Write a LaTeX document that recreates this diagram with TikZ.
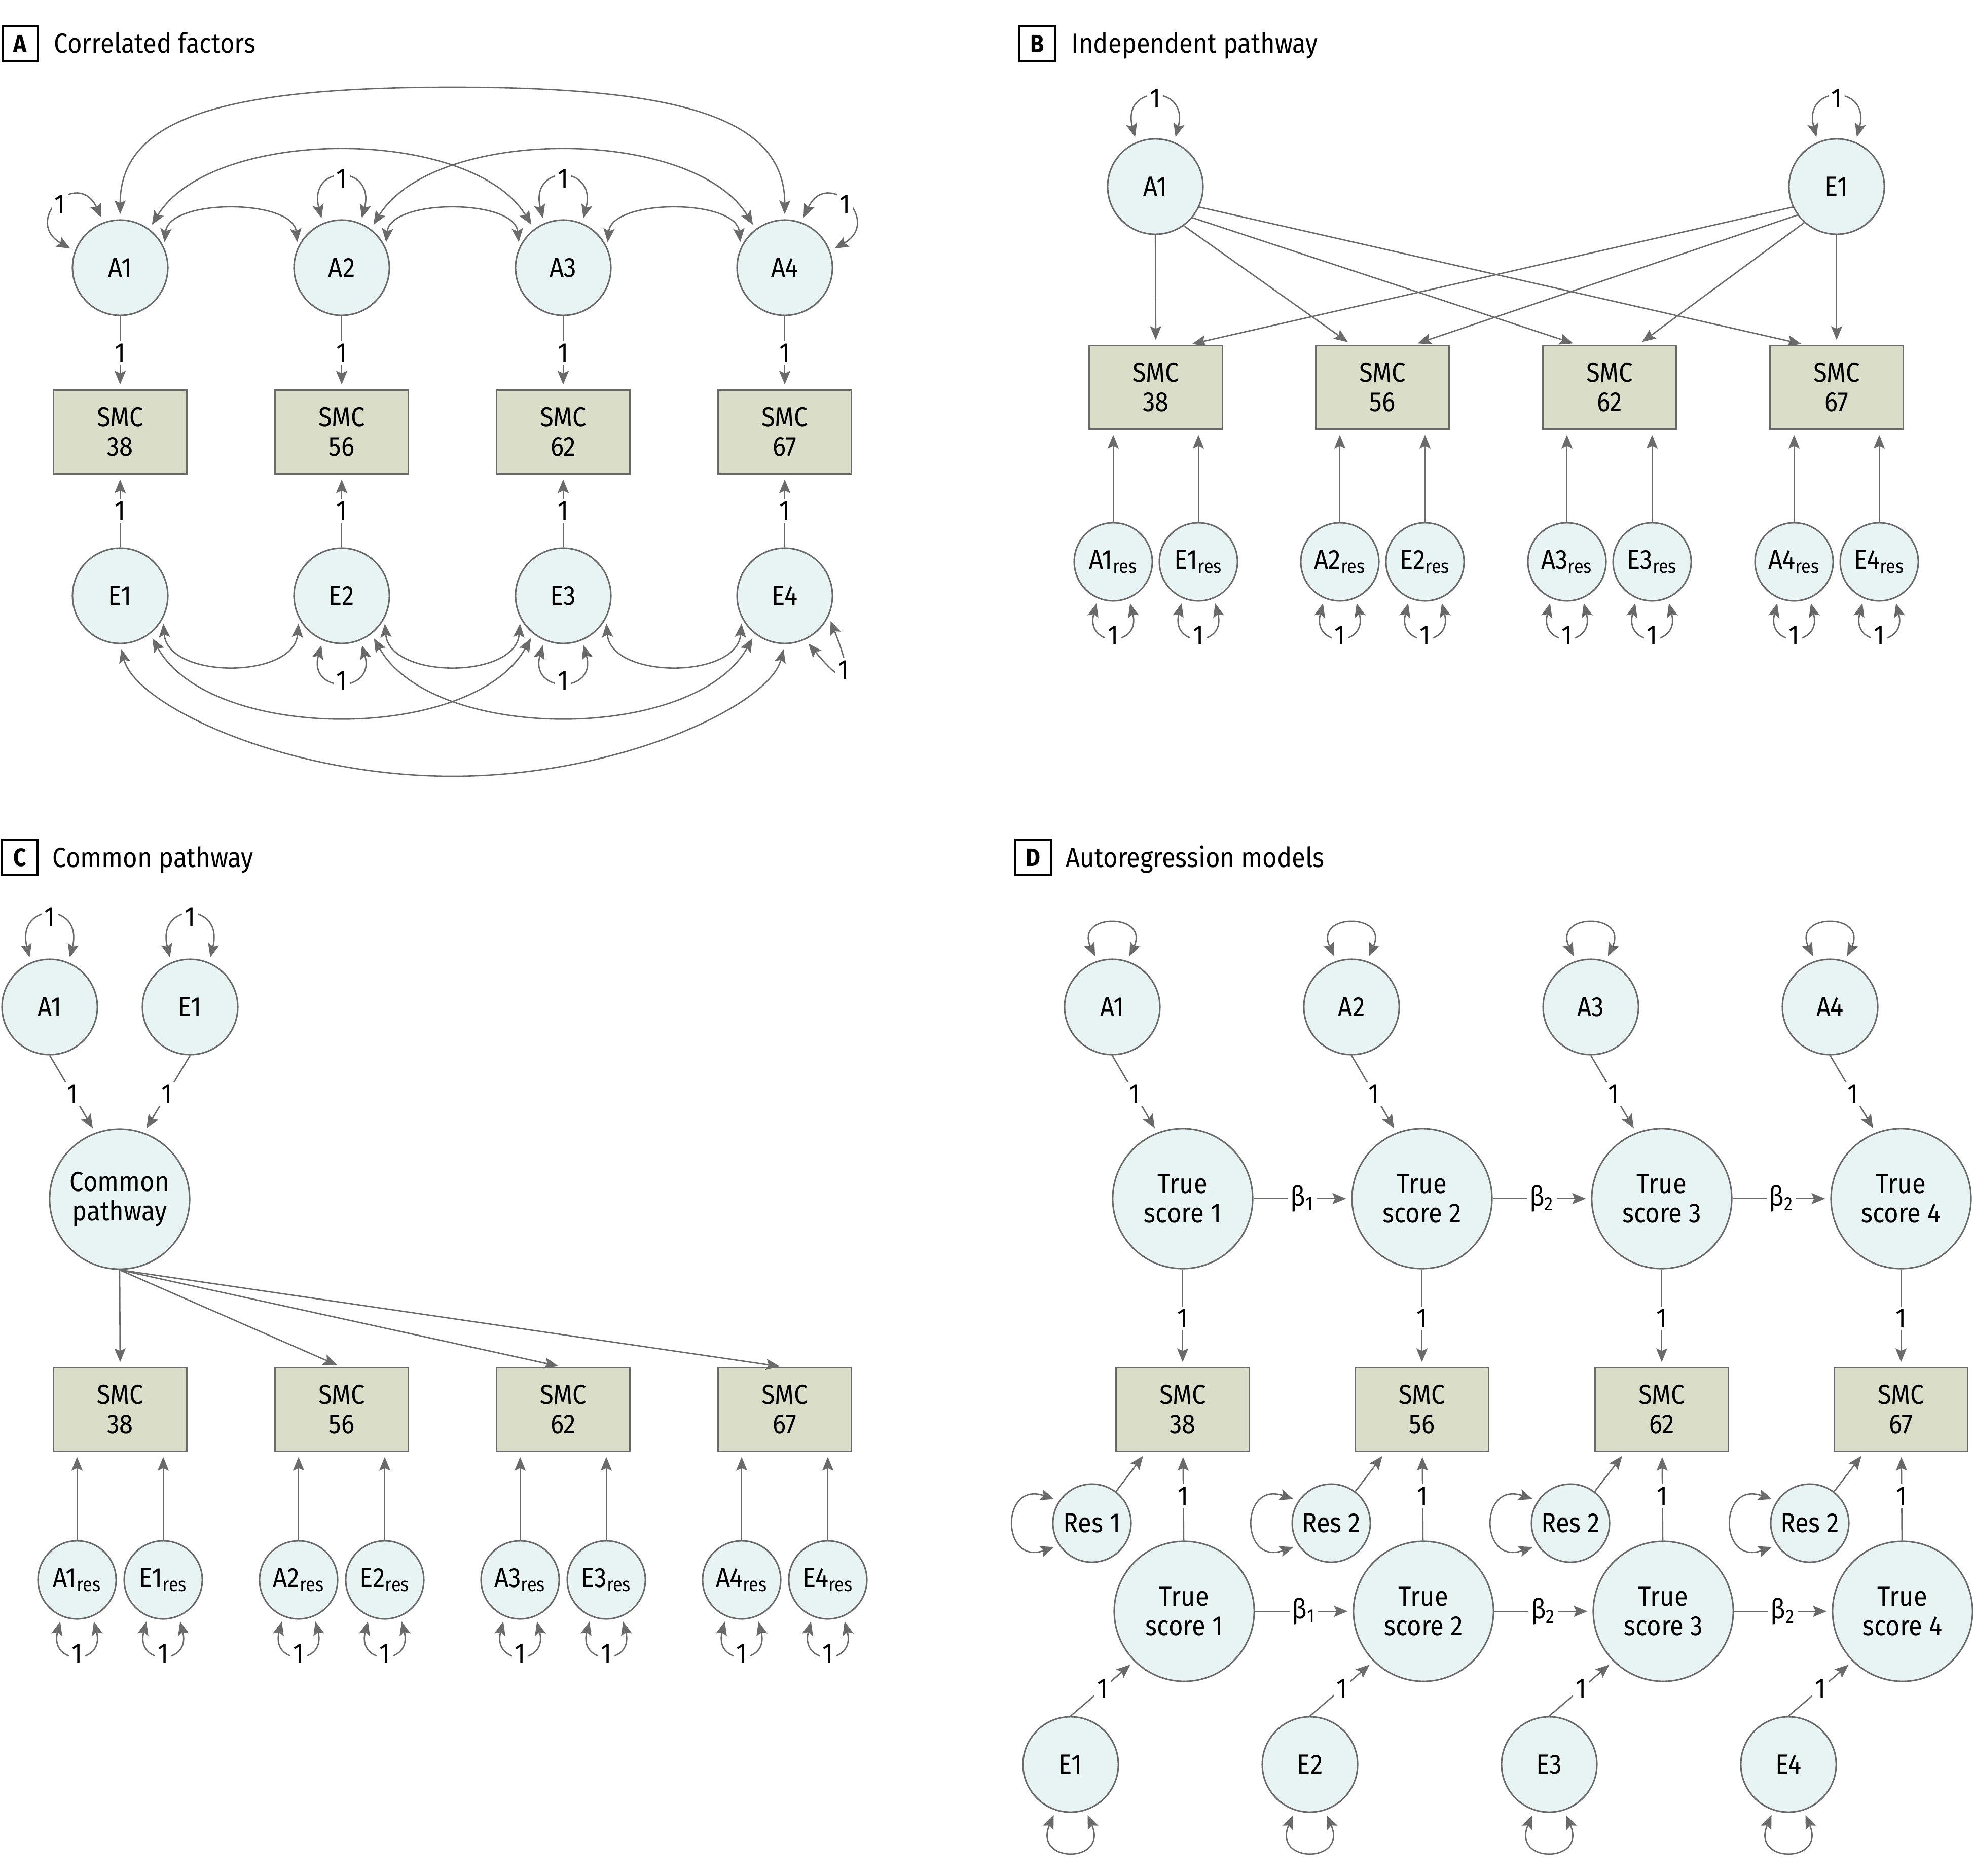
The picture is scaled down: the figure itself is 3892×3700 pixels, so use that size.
\documentclass[tikz,border=0pt]{standalone}
\usepackage{fontspec}
\setmainfont{Fira Sans}[FakeStretch=0.9]
\usetikzlibrary{arrows.meta}
\definecolor{lc}{HTML}{6A6A6A}
\definecolor{cfill}{HTML}{E8F3F4}
\definecolor{bfill}{HTML}{DADDC7}
\tikzset{
  lat/.style={circle, draw=lc, fill=cfill, line width=0.85pt, minimum size=1.88cm, inner sep=0pt, align=center},
  latbig/.style={lat, minimum size=2.76cm},
  latres/.style={lat, minimum size=1.54cm},
  obs/.style={rectangle, draw=lc, fill=bfill, line width=0.85pt, minimum width=2.63cm, minimum height=1.64cm, align=center},
  tip/.tip={Stealth[length=0.27cm,width=0.22cm,inset=0.05cm]},
  arr/.style={draw=lc, line width=0.75pt, -tip, shorten >=0.1cm},
  dbl/.style={draw=lc, line width=0.75pt, tip-tip, shorten >=0.1cm, shorten <=0.1cm},
  lbl/.style={fill=white, inner sep=1.5pt, text=black},
  hdr/.style={draw=black, line width=0.9pt, minimum size=0.7cm, inner sep=0pt, font=\fontsize{14}{16}\selectfont\bfseries},
  ttl/.style={anchor=base west, inner sep=0pt}
}
\begin{document}
\begin{tikzpicture}[x=0.01cm,y=0.01cm,font=\fontsize{15.5}{16.5}\selectfont]
\fill[white] (0,0) rectangle (3892,-3700);
\useasboundingbox (0,0) rectangle (3892,-3700);

% ---------------- headers ----------------
\node[hdr] (hA) at (40,-86) {A};
\node[ttl] (tA) at (106,-105) {Correlated factors};
\node[hdr] (hB) at (2046,-86) {B};
\node[ttl] (tB) at (2113,-105) {Independent pathway};
\node[hdr] (hC) at (39,-1691) {C};
\node[ttl] (tC) at (103,-1710) {Common pathway};
\node[hdr] (hD) at (2038,-1691) {D};
\node[ttl] (tD) at (2102,-1710) {Autoregression models};

% ---------------- panel A ----------------
\foreach \i/\x/\s in {1/237/38,2/674/56,3/1111/62,4/1548/67} {
  \node[lat] (aA\i) at (\x,-528) {A\i};
  \node[obs] (aS\i) at (\x,-852) {SMC\\\s};
  \node[lat] (aE\i) at (\x,-1175) {E\i};
  \draw[arr] (aA\i) -- node[lbl]{1} (aS\i);
  \draw[arr] (aE\i) -- node[lbl]{1} (aS\i);
}
% covariances among A
\draw[dbl] (aA1.25) .. controls +(10,96) and +(-10,96) .. (aA2.155);
\draw[dbl] (aA2.25) .. controls +(10,96) and +(-10,96) .. (aA3.155);
\draw[dbl] (aA3.25) .. controls +(10,96) and +(-10,96) .. (aA4.155);
\draw[dbl] (aA1.53) .. controls +(124,203) and +(-124,203) .. (aA3.127);
\draw[dbl] (aA2.53) .. controls +(124,203) and +(-124,203) .. (aA4.127);
\coordinate (aTop) at (892.5,-172);
\draw[dbl] (aA1.90) .. controls +(0,200) and +(-450,0) .. (aTop) .. controls +(450,0) and +(0,200) .. (aA4.90);
% covariances among E
\draw[dbl] (aE1.-28) .. controls +(10,-120) and +(-10,-120) .. (aE2.-152);
\draw[dbl] (aE2.-28) .. controls +(10,-120) and +(-10,-120) .. (aE3.-152);
\draw[dbl] (aE3.-28) .. controls +(10,-120) and +(-10,-120) .. (aE4.-152);
\draw[dbl] (aE1.-52) .. controls +(120,-215) and +(-120,-215) .. (aE3.-128);
\draw[dbl] (aE2.-52) .. controls +(120,-215) and +(-120,-215) .. (aE4.-128);
\coordinate (aBot) at (892.5,-1531);
\draw[dbl] (aE1.-90) .. controls +(30,-120) and +(-330,0) .. (aBot) .. controls +(330,0) and +(-30,-120) .. (aE4.-90);
% variances
\draw[dbl] (aA1.160) .. controls +(-104,60) and +(-51,109) .. (aA1.110) node[lbl,pos=0.5]{1};
\draw[dbl] (aA4.20) .. controls +(104,60) and +(51,109) .. (aA4.70) node[lbl,pos=0.5]{1};
\draw[dbl] (aA2.113) .. controls +(-30,117) and +(30,117) .. (aA2.67) node[lbl,pos=0.5]{1};
\draw[dbl] (aA3.113) .. controls +(-30,117) and +(30,117) .. (aA3.67) node[lbl,pos=0.5]{1};
\draw[dbl] (aE2.-113) .. controls +(-30,-106) and +(30,-106) .. (aE2.-67) node[lbl,pos=0.5]{1};
\draw[dbl] (aE3.-113) .. controls +(-30,-106) and +(30,-106) .. (aE3.-67) node[lbl,pos=0.5]{1};
\draw[dbl] (aE4.-25) .. controls +(40,-100) and +(100,-120) .. (aE4.-65) node[lbl,pos=0.5]{1};

% ---------------- panel B ----------------
\node[lat] (bA) at (2279,-368) {A1};
\node[lat] (bE) at (3623,-368) {E1};
\draw[dbl] (bA.113) .. controls +(-30,114) and +(30,114) .. (bA.67) node[lbl,pos=0.5]{1};
\draw[dbl] (bE.113) .. controls +(-30,114) and +(30,114) .. (bE.67) node[lbl,pos=0.5]{1};
\foreach \i/\x/\s in {1/2280/38,2/2727/56,3/3175/62,4/3623/67} {
  \node[obs] (bS\i) at (\x,-764) {SMC\\\s};
  \node[latres] (bRa\i) at (\x-84,-1108) {A\i\textsubscript{res}};
  \node[latres] (bRe\i) at (\x+84,-1108) {E\i\textsubscript{res}};
  \draw[arr] (bRa\i) -- (bRa\i |- bS\i.south);
  \draw[arr] (bRe\i) -- (bRe\i |- bS\i.south);
  \draw[dbl] (bRa\i.-113) .. controls +(-25,-97) and +(25,-97) .. (bRa\i.-67) node[lbl,pos=0.5]{1};
  \draw[dbl] (bRe\i.-113) .. controls +(-25,-97) and +(25,-97) .. (bRe\i.-67) node[lbl,pos=0.5]{1};
}
\draw[arr] (bA) -- (bS1);
\draw[arr] (bA.-54) -- ([xshift=-0.6cm]bS2.north);
\draw[arr] (bA.-40) -- ([xshift=-0.62cm]bS3.north);
\draw[arr] (bA.-25) -- ([xshift=-0.6cm]bS4.north);
\draw[arr] (bE.205) -- ([xshift=0.62cm]bS1.north);
\draw[arr] (bE.216) -- ([xshift=0.6cm]bS2.north);
\draw[arr] (bE.228) -- ([xshift=0.56cm]bS3.north);
\draw[arr] (bE) -- (bS4);

% ---------------- panel C ----------------
\node[lat] (cA) at (98,-1986) {A1};
\node[lat] (cE) at (375,-1986) {E1};
\node[latbig] (cP) at (236,-2365) {Common\\pathway};
\draw[dbl] (cA.113) .. controls +(-30,120) and +(30,120) .. (cA.67) node[lbl,pos=0.5]{1};
\draw[dbl] (cE.113) .. controls +(-30,120) and +(30,120) .. (cE.67) node[lbl,pos=0.5]{1};
\draw[arr] (cA.south) -- node[lbl]{1} (cP.110);
\draw[arr] (cE.south) -- node[lbl]{1} (cP.70);
\foreach \i/\x/\s in {1/237/38,2/674/56,3/1111/62,4/1548/67} {
  \node[obs] (cS\i) at (\x,-2780) {SMC\\\s};
  \node[latres] (cRa\i) at (\x-85,-3116) {A\i\textsubscript{res}};
  \node[latres] (cRe\i) at (\x+85,-3116) {E\i\textsubscript{res}};
  \draw[arr] (cP.south) -- (cS\i.north);
  \draw[arr] (cRa\i) -- (cRa\i |- cS\i.south);
  \draw[arr] (cRe\i) -- (cRe\i |- cS\i.south);
  \draw[dbl] (cRa\i.-113) .. controls +(-25,-97) and +(25,-97) .. (cRa\i.-67) node[lbl,pos=0.5]{1};
  \draw[dbl] (cRe\i.-113) .. controls +(-25,-97) and +(25,-97) .. (cRe\i.-67) node[lbl,pos=0.5]{1};
}

% ---------------- panel D ----------------
\foreach \i/\xa/\xt/\xr/\xe/\s/\rl in {1/2194/2333/2154/2112/38/1,2/2666/2805/2626/2584/56/2,3/3138/3278/3098/3056/62/2,4/3610/3750/3570/3528/67/2} {
  \node[lat] (dA\i) at (\xa,-1986) {A\i};
  \node[latbig] (dT\i) at (\xt,-2364) {True\\score \i};
  \node[obs] (dS\i) at (\xt,-2780) {SMC\\\s};
  \node[latres] (dR\i) at (\xr,-3004) {Res \rl};
  \node[latbig] (dL\i) at (\xt+3,-3178) {True\\score \i};
  \node[lat] (dE\i) at (\xe,-3480) {E\i};
  \draw[arr] (dA\i.south) -- node[lbl]{1} (dT\i.111);
  \draw[arr] (dT\i) -- node[lbl]{1} (dS\i);
  \draw[arr] (dL\i) -- node[lbl]{1} (dS\i);
  \draw[arr] (dR\i) -- ([xshift=-0.72cm]dS\i.south);
  \draw[arr] (dE\i.north) -- node[lbl]{1} (dL\i.225);
  \draw[dbl] (dA\i.108) .. controls +(-45,95) and +(45,95) .. (dA\i.72);
  \draw[dbl] (dE\i.-108) .. controls +(-45,-105) and +(45,-105) .. (dE\i.-72);
  \draw[dbl] (dR\i.146) .. controls +(-115,40) and +(-115,-40) .. (dR\i.214);
}
\draw[arr] (dT1) -- node[lbl]{β\textsubscript{1}} (dT2);
\draw[arr] (dT2) -- node[lbl]{β\textsubscript{2}} (dT3);
\draw[arr] (dT3) -- node[lbl]{β\textsubscript{2}} (dT4);
\draw[arr] (dL1) -- node[lbl]{β\textsubscript{1}} (dL2);
\draw[arr] (dL2) -- node[lbl]{β\textsubscript{2}} (dL3);
\draw[arr] (dL3) -- node[lbl]{β\textsubscript{2}} (dL4);
\end{tikzpicture}
\end{document}
